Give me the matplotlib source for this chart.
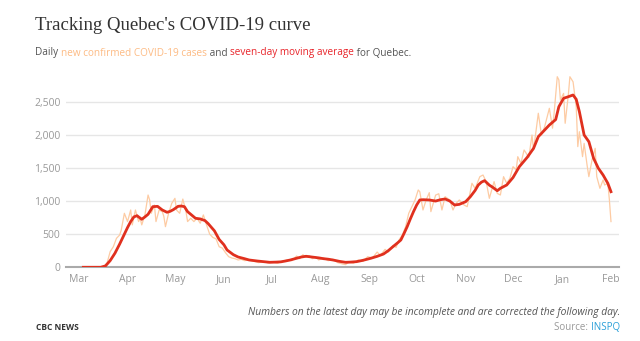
import numpy as np
import matplotlib
matplotlib.use('Agg')
import matplotlib.pyplot as plt
import matplotlib.dates as mdates
import matplotlib.ticker as mticker

start = np.datetime64('2020-03-01')

# daily new confirmed cases (day offset from Mar 1 2020, cases)
case_day = [0, 4, 10, 14, 16, 18, 20, 22, 24, 26, 27, 29, 31, 33, 34, 36, 38, 39, 40, 42,
            44, 45, 46, 48, 49, 51, 53, 54, 55, 57, 59, 61, 62, 64, 66, 68, 69, 71, 73, 75,
            77, 79, 81, 83, 85, 87, 89, 91, 93, 95, 97, 99, 101, 103, 105, 108, 111, 114, 117, 120,
            123, 126, 129, 132, 135, 138, 140, 142, 144, 146, 148, 150, 152, 155, 158, 161, 164, 167, 169, 171,
            174, 177, 180, 183, 186, 189, 191, 194, 196, 199, 201, 203, 205, 207, 209, 211, 213, 215, 216, 218,
            220, 222, 223, 226, 228, 230, 232, 235, 237, 239, 241, 244, 246, 249, 251, 254, 256, 258, 260, 263,
            265, 267, 269, 271, 273, 275, 277, 278, 280, 282, 285, 287, 288, 291, 293, 295, 298, 300, 301, 303,
            304, 305, 307, 308, 310, 311, 313, 315, 316, 317, 319, 320, 322, 323, 325, 327, 328, 330, 332, 333,
            335, 336, 337]
case_val = [0, 0, 0, 5, 15, 60, 236, 310, 437, 487, 560, 815, 690, 865, 640, 865, 690, 740, 640, 790,
            1091, 1016, 815, 940, 690, 865, 840, 765, 613, 815, 966, 1041, 865, 815, 1030, 840, 690, 740, 690, 740,
            665, 790, 640, 500, 450, 430, 310, 290, 220, 160, 140, 130, 110, 120, 100, 110, 90, 70, 85, 65,
            80, 60, 90, 110, 100, 170, 130, 190, 150, 175, 130, 160, 110, 140, 100, 120, 70, 50, 40, 80,
            60, 110, 90, 160, 140, 230, 180, 270, 230, 330, 300, 420, 488, 613, 815, 915, 1016, 1167, 1140, 865,
            1016, 1127, 840, 1090, 1110, 865, 1066, 1016, 865, 966, 1016, 940, 915, 1268, 1190, 1368, 1393, 1293, 1041, 1293,
            1116, 1091, 1368, 1268, 1343, 1519, 1470, 1670, 1570, 1771, 1660, 1997, 1771, 2325, 1997, 2122, 2400, 2100, 2325, 2877,
            2830, 2525, 2625, 2174, 2600, 2877, 2800, 2424, 1822, 2047, 1670, 1870, 1520, 1368, 1620, 1796, 1368, 1192, 1318, 1242,
            1268, 1016, 690]

# seven-day moving average
avg_day = [3, 14, 17, 20, 23, 26, 29, 31, 33, 35, 37, 38, 40, 42, 44, 47, 50, 53, 56, 58,
           60, 63, 65, 67, 69, 71, 74, 77, 80, 82, 86, 89, 92, 94, 98, 101, 105, 108, 113, 117,
           121, 125, 128, 131, 134, 138, 141, 144, 146, 149, 152, 155, 158, 161, 165, 169, 172, 176, 180, 185,
           189, 193, 196, 199, 202, 204, 206, 208, 210, 212, 214, 216, 218, 222, 226, 229, 232, 235, 238, 241,
           245, 248, 251, 253, 255, 257, 260, 262, 265, 267, 271, 275, 279, 284, 288, 291, 294, 298, 302, 304,
           307, 310, 313, 315, 317, 320, 323, 326, 329, 332, 335, 337]
avg_val = [0, 0, 20, 100, 211, 350, 500, 600, 690, 760, 779, 760, 725, 760, 800, 915, 920, 865, 830, 845,
           870, 920, 925, 915, 840, 800, 740, 730, 705, 660, 550, 420, 340, 261, 190, 155, 130, 110, 95, 85,
           75, 78, 82, 95, 110, 136, 155, 166, 160, 151, 142, 130, 122, 110, 90, 75, 78, 85, 105, 136,
           165, 200, 250, 311, 370, 412, 510, 613, 730, 840, 940, 1016, 1020, 1016, 1000, 1020, 1031, 1000, 940, 950,
           990, 1066, 1160, 1242, 1285, 1308, 1240, 1210, 1156, 1192, 1242, 1355, 1519, 1660, 1796, 1972, 2047, 2148, 2230, 2424,
           2551, 2575, 2601, 2536, 2349, 1997, 1896, 1645, 1495, 1393, 1268, 1141]

month_ticks = ['2020-03-01', '2020-04-01', '2020-05-01', '2020-06-01', '2020-07-01', '2020-08-01',
               '2020-09-01', '2020-10-01', '2020-11-01', '2020-12-01', '2021-01-01', '2021-02-01']
y_ticks = [0, 500, 1000, 1500, 2000, 2500]

case_dates = start + np.array(case_day).astype('timedelta64[D]')
avg_dates = start + np.array(avg_day).astype('timedelta64[D]')

plt.rcParams['font.family'] = ['Open Sans', 'DejaVu Sans']

fig = plt.figure(figsize=(6.4, 3.41), dpi=100)
ax = fig.add_axes([0.103, 0.2162, 0.864, 0.5633])

ax.plot(case_dates, case_val, color='#fdcba3', linewidth=0.9, zorder=2)
ax.plot(avg_dates, avg_val, color='#e0301e', linewidth=2.0, zorder=3)

ax.set_ylim(0, 2900)
ax.set_xlim(start - np.timedelta64(8, 'D'), start + np.timedelta64(342, 'D'))
ax.set_yticks(y_ticks)
ax.yaxis.set_major_formatter(mticker.FuncFormatter(lambda v, p: f'{int(v):,}'))
ax.set_xticks(np.array(month_ticks, dtype='datetime64[D]'))
ax.xaxis.set_major_formatter(mdates.DateFormatter('%b'))
ax.tick_params(axis='both', length=0, labelsize=7.5, colors='#999999')
ax.tick_params(axis='y', pad=4)
ax.tick_params(axis='x', pad=5)
ax.grid(axis='y', color='#e6e6e6', linewidth=1)
ax.set_axisbelow(True)
for s in ['left', 'right', 'top']:
    ax.spines[s].set_visible(False)
ax.spines['bottom'].set_color('#aaaaaa')
ax.spines['bottom'].set_linewidth(1.5)

# title
fig.text(35 / 640, 1 - 25 / 341, "Tracking Quebec's COVID-19 curve", family='Liberation Serif',
         fontsize=13.5, color='#333333', va='center', ha='left')

# coloured subtitle
renderer = fig.canvas.get_renderer()
parts = [('Daily ', '#555555'), ('new confirmed COVID-19 cases', '#fdbb84'), (' and ', '#555555'),
         ('seven-day moving average', '#e8252b'), (' for Quebec.', '#555555')]
x = 35 / 640
for txt, col in parts:
    t = fig.text(x, 1 - 53 / 341, txt, fontsize=7.2, color=col, va='center', ha='left')
    bb = t.get_window_extent(renderer)
    x += bb.width / fig.bbox.width

fig.text(620 / 640, 1 - 312 / 341,
         'Numbers on the latest day may be incomplete and are corrected the following day.',
         fontsize=7.4, style='italic', color='#555555', ha='right', va='center')
fig.text(36 / 640, 1 - 328 / 341, 'CBC NEWS', fontsize=6, weight='bold', color='#333333',
         ha='left', va='center')
src = fig.text(620 / 640, 1 - 328 / 341, 'INSPQ', fontsize=7, color='#2a9fd8', ha='right', va='center')
bb = src.get_window_extent(renderer)
fig.text((bb.x0) / fig.bbox.width, 1 - 328 / 341, 'Source: ', fontsize=7, color='#999999',
         ha='right', va='center')

fig.savefig('out.png', dpi=100)
